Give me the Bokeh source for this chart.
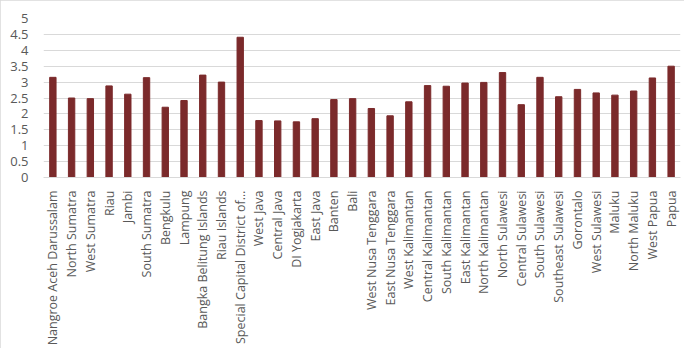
import math
from bokeh.plotting import figure
from bokeh.models import FactorRange, ColumnDataSource, SingleIntervalTicker
from bokeh.embed import file_html
from bokeh.resources import INLINE

provinces = [
    "Nangroe Aceh Darussalam", "North Sumatra", "West Sumatra", "Riau", "Jambi",
    "South Sumatra", "Bengkulu", "Lampung", "Bangka Belitung Islands", "Riau Islands",
    "Special Capital District of\u2026", "West Java", "Central Java", "DI Yogjakarta",
    "East Java", "Banten", "Bali", "West Nusa Tenggara", "East Nusa Tenggara",
    "West Kalimantan", "Central Kalimantan", "South Kalimantan", "East Kalimantan",
    "North Kalimantan", "North Sulawesi", "Central Sulawesi", "South Sulawesi",
    "Southeast Sulawesi", "Gorontalo", "West Sulawesi", "Maluku", "North Maluku",
    "West Papua", "Papua",
]
values = [
    3.15, 2.50, 2.48, 2.88, 2.62,
    3.14, 2.21, 2.42, 3.22, 3.00,
    4.41, 1.79, 1.78, 1.75,
    1.85, 2.45, 2.48, 2.17, 1.94,
    2.38, 2.89, 2.87, 2.97,
    2.99, 3.30, 2.29, 3.15,
    2.54, 2.77, 2.66, 2.59, 2.72,
    3.13, 3.50,
]

src = ColumnDataSource(dict(x=provinces, top=values))

p = figure(
    x_range=FactorRange(*provinces, range_padding=0),
    y_range=(0, 5),
    width=684, height=348,
    output_backend="svg", toolbar_location=None,
    min_border_left=43, min_border_right=4, min_border_top=18, min_border_bottom=167,
)
p.styles = {"outline": "1px solid #d9d9d9", "outline-offset": "-1px"}
p.vbar(x="x", top="top", width=0.34, source=src, fill_color="#7b2a2b",
       line_color="#7b2a2b")

p.outline_line_color = None
p.xgrid.grid_line_color = None
p.ygrid.grid_line_color = "#d9d9d9"
p.ygrid.grid_line_width = 1

p.yaxis.ticker = SingleIntervalTicker(interval=0.5)
p.yaxis.axis_line_color = None
p.yaxis.major_tick_line_color = None
p.yaxis.minor_tick_line_color = None
p.yaxis.major_label_standoff = 9
p.yaxis.major_label_text_font = "Open Sans"
p.yaxis.major_label_text_font_size = "13px"
p.yaxis.major_label_text_color = "#595959"

p.xaxis.axis_line_color = "#d9d9d9"
p.xaxis.major_tick_line_color = None
p.xaxis.minor_tick_line_color = None
p.xaxis.major_label_orientation = math.pi / 2
p.xaxis.major_label_standoff = 7
p.xaxis.major_label_text_font = "Open Sans"
p.xaxis.major_label_text_font_size = "12.5px"
p.xaxis.major_label_text_color = "#595959"

open("out.html", "w").write(file_html(p, INLINE))
